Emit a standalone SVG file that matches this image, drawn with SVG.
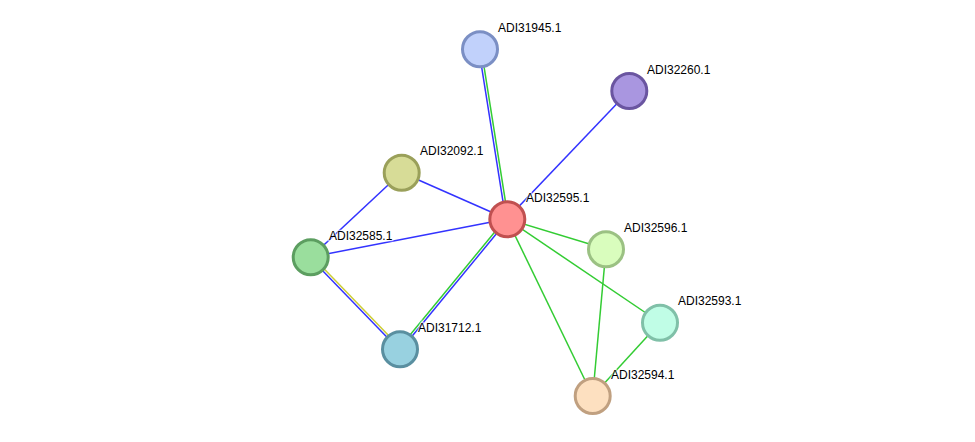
<svg xmlns="http://www.w3.org/2000/svg" width="975" height="442" viewBox="0 0 975 442">
<style>
.e{stroke-width:1.5;fill:none}
.b{stroke:#3333ff}
.g{stroke:#33cc33}
.y{stroke:#cccc33}
circle{stroke-width:3}
text{font-family:"Liberation Sans",Arial,sans-serif;font-size:12px;fill:#000;stroke:#fff;stroke-width:2.5;stroke-opacity:0.6;paint-order:stroke}
</style>
<rect width="975" height="442" fill="#fff"/>
<g id="edges">
<line class="e b" x1="478.8" y1="49.2" x2="505.8" y2="219.2"/>
<line class="e g" x1="481.2" y1="48.8" x2="508.2" y2="218.8"/>
<line class="e b" x1="629" y1="91" x2="507" y2="219"/>
<line class="e b" x1="401.5" y1="172.5" x2="507" y2="219"/>
<line class="e b" x1="401.5" y1="172.5" x2="311" y2="257"/>
<line class="e b" x1="311" y1="257" x2="507" y2="219"/>
<line class="e y" x1="311.9" y1="256.2" x2="400.9" y2="348.2"/>
<line class="e b" x1="310.1" y1="257.8" x2="399.1" y2="349.8"/>
<line class="e b" x1="400.9" y1="349.8" x2="507.9" y2="219.8"/>
<line class="e g" x1="399.1" y1="348.2" x2="506.1" y2="218.2"/>
<line class="e g" x1="507" y1="219" x2="606" y2="249"/>
<line class="e g" x1="507" y1="219" x2="660" y2="322.5"/>
<line class="e g" x1="507" y1="219" x2="592.7" y2="396"/>
<line class="e g" x1="606" y1="249" x2="592.7" y2="396"/>
<line class="e g" x1="660" y1="322.5" x2="592.7" y2="396"/>
</g>
<g id="ADI31945.1"><circle cx="480" cy="49.3" r="17.5" fill="#c1d1fb" stroke="#7b8fc4"/><text x="498" y="32">ADI31945.1</text></g>
<g id="ADI32260.1"><circle cx="629.3" cy="91" r="17.5" fill="#a996e0" stroke="#6a55a0"/><text x="647" y="74">ADI32260.1</text></g>
<g id="ADI32092.1"><circle cx="401.7" cy="172.7" r="17.5" fill="#d7dc97" stroke="#9aa05a"/><text x="420" y="155">ADI32092.1</text></g>
<g id="ADI32595.1"><circle cx="507.3" cy="219.3" r="17.5" fill="#ff9191" stroke="#c05050"/><text x="526" y="202">ADI32595.1</text></g>
<g id="ADI32596.1"><circle cx="606" cy="249.3" r="17.5" fill="#d9fdbd" stroke="#9bc183"/><text x="624" y="232">ADI32596.1</text></g>
<g id="ADI32585.1"><circle cx="310.7" cy="257.3" r="17.5" fill="#9ade9d" stroke="#5c9e60"/><text x="329" y="240">ADI32585.1</text></g>
<g id="ADI32593.1"><circle cx="660" cy="322.7" r="17.5" fill="#c0fde6" stroke="#80c0a8"/><text x="678" y="305">ADI32593.1</text></g>
<g id="ADI31712.1"><circle cx="400" cy="349.3" r="17.5" fill="#98d1e0" stroke="#5a8fa0"/><text x="418" y="332">ADI31712.1</text></g>
<g id="ADI32594.1"><circle cx="592.7" cy="396" r="17.5" fill="#fde0c0" stroke="#c0a080"/><text x="611" y="379">ADI32594.1</text></g>
</svg>
